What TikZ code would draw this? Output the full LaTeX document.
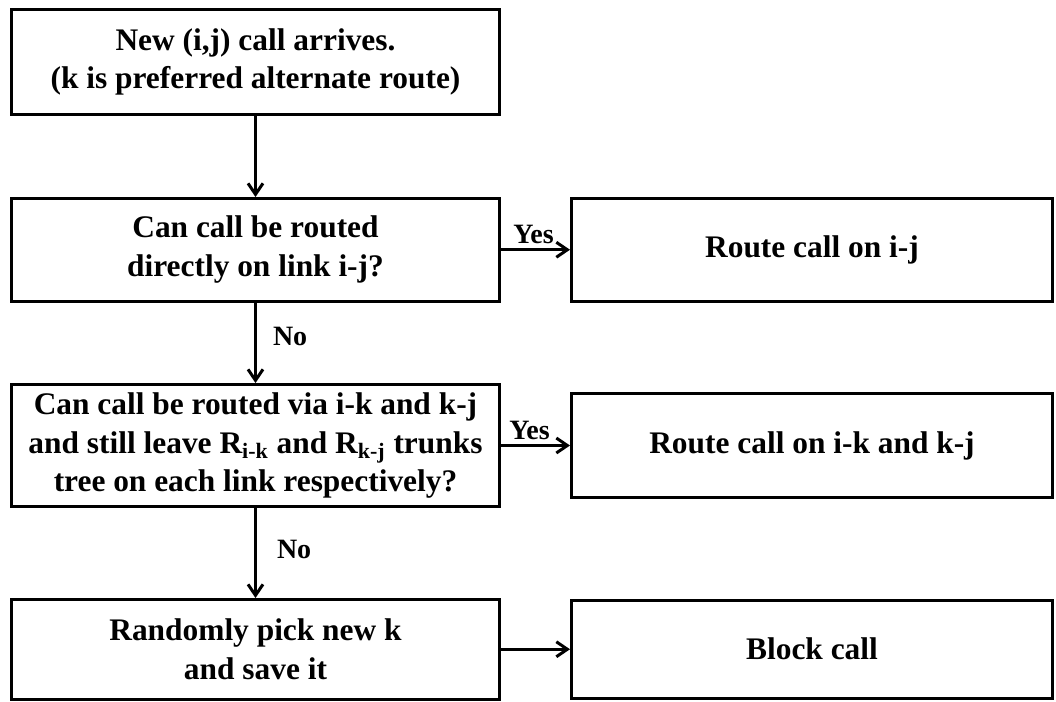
\documentclass[tikz,border=0pt]{standalone}
\usepackage{fontspec}
\setmainfont{Liberation Serif}
\usetikzlibrary{arrows.meta}
\begin{document}
\begin{tikzpicture}[x=0.5pt,y=-0.5pt,
  box/.style={draw=black,line width=1.5pt,rectangle,align=center,inner sep=0pt,
    font=\bfseries\fontsize{15.7}{19.4}\selectfont},
  lbox/.style={box,minimum width=244pt},
  rbox/.style={box,minimum width=240.5pt},
  conn/.style={line width=1.5pt,-{Straight Barb[length=5.5pt,width=7.5pt,line width=1.5pt]}},
  lab/.style={font=\bfseries\fontsize{14}{16}\selectfont,inner sep=1pt}]
\fill[white] (0,0) rectangle (1056,702);
\useasboundingbox (0,0) rectangle (1056,702);
\node[lbox,minimum height=52.25pt] (start) at (255.5,62) {New (i,j) call arrives.\\(k is preferred alternate route)};
\node[lbox,minimum height=51.25pt] (direct) at (255.5,249.75) {Can call be routed\\directly on link i-j?};
\node[lbox,minimum height=61pt] (via) at (255.5,445.5) {Can call be routed via i-k and k-j\\and still leave R\textsubscript{i-k} and R\textsubscript{k-j} trunks\\tree on each link respectively?};
\node[lbox,minimum height=49.75pt] (pick) at (255.5,649.25) {Randomly pick new k\\and save it};
\node[rbox,minimum height=51.5pt] (rij) at (812,249.75) {Route call on i-j};
\node[rbox,minimum height=52.25pt] (rikj) at (812,445.5) {Route call on i-k and k-j};
\node[rbox,minimum height=49.25pt] (block) at (812,649.25) {Block call};
\draw[conn] (start) -- (direct);
\draw[conn] (direct) -- node[lab,right=7pt,yshift=3pt]{No} (via);
\draw[conn] (via) -- node[lab,right=9pt,yshift=2pt]{No} (pick);
\draw[conn] (direct) -- node[lab,above=1pt,xshift=-1pt]{Yes} (rij);
\draw[conn] (via) -- node[lab,above=1pt,xshift=-3pt]{Yes} (rikj);
\draw[conn] (pick) -- (block);
\end{tikzpicture}
\end{document}
